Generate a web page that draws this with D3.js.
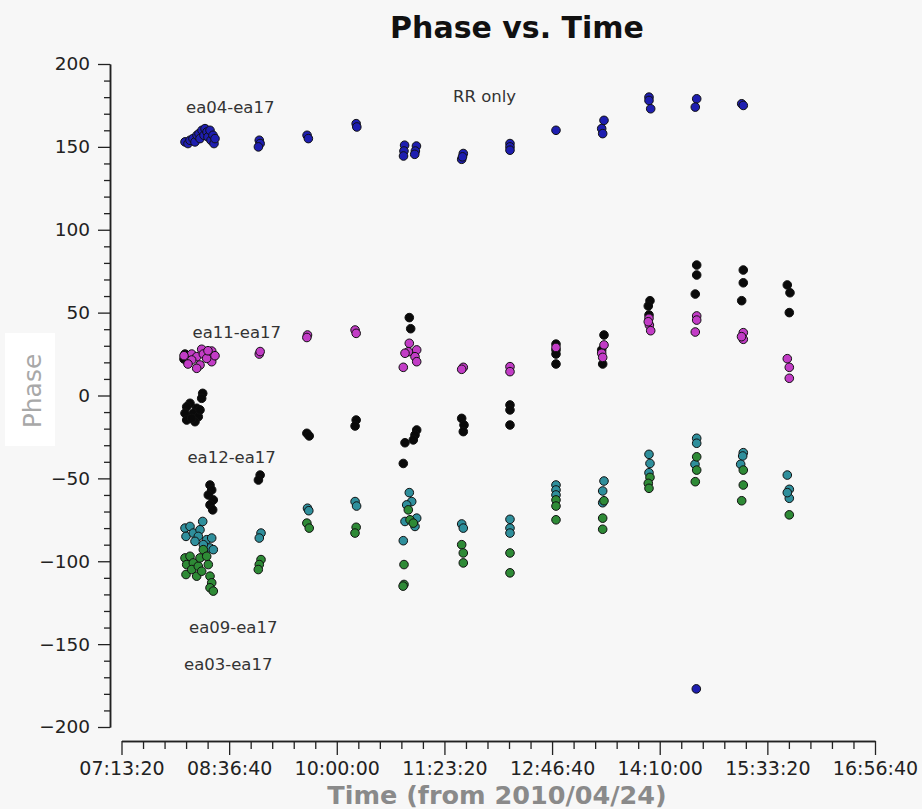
<!DOCTYPE html>
<html>
<head>
<meta charset="utf-8">
<script src="https://cdn.jsdelivr.net/npm/d3@7"></script>
<style>
  html, body { margin: 0; padding: 0; background: #f7f7f7; }
  svg { display: block; }
  text { font-family: "DejaVu Sans", sans-serif; }
</style>
</head>
<body>
<svg id="chart" width="922" height="809"></svg>
<script>
// ---------------- data (time in seconds since 2010/04/24 00:00, phase in degrees) ----------------
const xDomain = [26000, 61000];          // 07:13:20 .. 16:56:40
const yDomain = [-200, 200];
const xMajorTicks = [26000, 31000, 36000, 41000, 46000, 51000, 56000, 61000];
const yMajorTicks = [-200, -150, -100, -50, 0, 50, 100, 150, 200];

const seriesNames  = ["ea12-ea17", "ea09-ea17", "ea03-ea17", "ea11-ea17", "ea04-ea17"];
const seriesColors = ["#0a0a0a", "#2f8f9c", "#2e8a36", "#c23cc6", "#1e1eb0"];

const ea04 = [
  [28950,153],[29089,152],[29182,154],[29321,155],[29414,153],[29507,157],[29600,158],[29646,155],
  [29739,160],[29832,157],[29879,161],[29971,159],[30018,156],[30111,160],[30157,154],[30250,157],
  [30297,152],[30343,155],
  [32400,154],[32440,152],[32360,150],
  [34620,157],[34680,155],
  [36900,164],[36930,162],
  [39150,151],[39120,147.5],[39100,144.5],[39700,150.5],[39650,147.5],[39620,145.5],
  [41876,146],[41802,142.5],[41840,144],
  [44045,152],[44045,150],[44045,148],
  [46182,160],
  [48412,166],[48305,161],[48351,158],
  [50502,180],[50502,178],[50581,173],
  [52718,179],[52652,174],[52700,-177],
  [54808,176],[54882,175]
];

const ea11 = [
  [29028,23.4],[29261,25],[29493,23.4],[29725,27.9],[29800,25],[30190,26.8],[30264,23.4],[30190,20.4],
  [29646,18.4],[29493,16.4],[29261,21.4],[29957,22.4],[28903,24],[29089,19],[30018,27],[30343,24],
  [32400,25],[32440,26.5],
  [34640,36.5],[34610,35],
  [36850,39.5],[36900,37.5],
  [39368,31.5],[39712,27.5],[39322,26.4],[39633,23.4],[39168,25.5],[39712,20.4],[39089,17],
  [41876,17],[41802,15.8],
  [44045,17.4],[44045,14.4],
  [46182,29],
  [48412,30.5],[48305,25.5],[48351,23],
  [50502,46.6],[50520,42.5],[50581,39.1],[50469,44.5],
  [52718,48],[52718,45.5],[52652,38.3],
  [54882,37.9],[54882,33.9],[54800,35.5],
  [56926,22.2],[57019,17],[57019,10.4]
];

const ea12 = [
  [28903,22],[29089,20],[28950,25],
  [29772,1.3],[29725,-1.7],[29182,-4.7],[29028,-6.8],[29493,-7.7],[28950,-10.7],[29335,-10.7],
  [29567,-12.8],[29028,-14.8],[29414,-15.8],[29646,-8.7],[29261,-13.8],
  [30111,-54],[30190,-57],[30032,-60],[30264,-63],[30111,-66],[30236,-69],
  [32440,-48],[32360,-51],
  [34610,-22.8],[34720,-24.4],
  [36900,-14.8],[36850,-18.4],
  [39368,47],[39433,40.3],
  [39712,-20.8],[39633,-23.8],[39554,-26.8],[39168,-28.5],[39089,-41],
  [41802,-13.8],[41909,-17.8],[41876,-21.8],
  [44045,-5.7],[44045,-8.7],[44045,-17.8],
  [46182,31],[46182,27.5],[46182,25],[46182,19],
  [48412,36.5],[48305,27.5],[48351,19],
  [50548,57.2],[50469,54],[50502,48.6],
  [52718,78.7],[52718,72.7],[52652,61.2],
  [54882,75.7],[54882,68],[54808,57.2],
  [56926,66.7],[57051,62],[57019,50]
];

const ea09 = [
  [28950,-80],[29182,-79],[28996,-85],[29335,-83],[29646,-81],[29772,-76],[29567,-85],[29957,-87],
  [30190,-86],[30111,-92],[30264,-93],[29800,-90],[29414,-88],
  [32480,-83],[32400,-86],
  [34640,-68],[34700,-69.5],
  [36850,-64],[36920,-66.7],
  [39368,-58.6],[39480,-64],[39247,-66],[39712,-74],[39168,-76],[39633,-79],[39089,-87.6],
  [41802,-77.5],[41876,-80],
  [44045,-74.7],[44045,-80],[44045,-83],
  [46182,-54],[46182,-57],[46182,-60],
  [48412,-51.6],[48351,-57.6],[48351,-64.7],
  [50502,-35.5],[50548,-41],[50502,-46.6],
  [52718,-25.8],[52718,-28.8],[52638,-41.5],
  [54882,-34.5],[54854,-36.5],[54761,-41.5],
  [56926,-48],[57019,-56.6],[57019,-62],[56926,-58.6]
];

const ea03 = [
  [28950,-98],[29028,-102],[29182,-97],[29335,-101],[28996,-108],[29261,-105],[29567,-103],[29646,-98],
  [29800,-93],[29493,-109],[29725,-106],[30032,-102],[30111,-109],[30190,-113],[30111,-116],[30264,-118],
  [29957,-97],
  [32480,-99],[32400,-102],[32354,-105],
  [34610,-77],[34720,-80],
  [36900,-79.5],[36846,-83],
  [39322,-69],[39401,-75],[39554,-77],[39122,-102],[39122,-114],[39080,-115],
  [41802,-90],[41876,-95],[41876,-101],
  [44045,-95],[44045,-107],
  [46182,-63],[46182,-66.7],[46182,-75],
  [48412,-63.5],[48351,-74],[48351,-80.7],
  [50548,-49.4],[50469,-53],[50502,-56],
  [52718,-37],[52718,-45],[52652,-52],
  [54882,-45],[54882,-54],[54808,-63.5],
  [57019,-72]
];

const seriesData = [ea12, ea09, ea03, ea11, ea04];

// annotation labels: [text, time (left edge), phase (baseline)]
const labelTexts  = ["ea04-ea17", "RR only", "ea11-ea17", "ea12-ea17", "ea09-ea17", "ea03-ea17"];
const labelTimes  = [28996, 41397, 29300, 29060, 29135, 28903];
const labelPhases = [170.4, 177.1, 34.7, -40.5, -143.5, -165.6];

const titleText = "Phase vs. Time";
const xTitle = "Time (from 2010/04/24)";
const yTitle = "Phase";

// ---------------- drawing ----------------
const svg = d3.select("#chart");

const x = d3.scaleLinear().domain(xDomain).range([121.5, 875]);
const y = d3.scaleLinear().domain(yDomain).range([727, 64]);

const pad2 = n => String(n).padStart(2, "0");
const fmtTime = s => pad2(Math.floor(s / 3600)) + ":" + pad2(Math.floor((s % 3600) / 60)) + ":" + pad2(Math.round(s % 60));

svg.append("rect").attr("x", 0).attr("y", 0).attr("width", 922).attr("height", 809).attr("fill", "#f7f7f7");

// title
svg.append("text")
  .attr("x", 517).attr("y", 38)
  .attr("text-anchor", "middle")
  .attr("font-size", 30).attr("font-weight", "bold")
  .attr("fill", "#111")
  .text(titleText);

// y-axis title box + text
svg.append("rect").attr("x", 5).attr("y", 333).attr("width", 50).attr("height", 113).attr("fill", "#ffffff");
svg.append("text")
  .attr("transform", "translate(41,391) rotate(-90)")
  .attr("text-anchor", "middle")
  .attr("font-family", "'Open Sans', 'Noto Sans', sans-serif")
  .attr("font-size", 25)
  .attr("fill", "#a8a8a8")
  .text(yTitle);

// y axis minor
const yMinor = d3.range(-200, 201, 10).filter(v => v % 50 !== 0);
svg.append("g").attr("class", "ymin").attr("transform", "translate(110,0)")
  .call(d3.axisLeft(y).tickValues(yMinor).tickSize(6).tickSizeOuter(0).tickFormat(""));
// y axis major
svg.append("g").attr("class", "ymaj").attr("transform", "translate(110,0)")
  .call(d3.axisLeft(y).tickValues(yMajorTicks).tickSize(12).tickSizeOuter(0).tickPadding(8).tickFormat(d3.format("d")));

// x axis minor
const xMinor = d3.range(xDomain[0], xDomain[1] + 1, 1000).filter(v => (v - xDomain[0]) % 5000 !== 0);
svg.append("g").attr("class", "xmin").attr("transform", "translate(0,741)")
  .call(d3.axisBottom(x).tickValues(xMinor).tickSize(8).tickSizeOuter(0).tickFormat(""));
// x axis major
svg.append("g").attr("class", "xmaj").attr("transform", "translate(0,741)")
  .call(d3.axisBottom(x).tickValues(xMajorTicks).tickSize(14).tickSizeOuter(0).tickPadding(7).tickFormat(fmtTime));

svg.selectAll(".ymin path, .ymaj path, .xmin path, .xmaj path").attr("stroke", "#222").attr("stroke-width", 1.5);
svg.selectAll(".ymin line, .ymaj line, .xmin line, .xmaj line").attr("stroke", "#222").attr("stroke-width", 1.3);
svg.selectAll(".ymaj text").attr("font-size", 18.5).attr("fill", "#222").attr("font-family", "'DejaVu Sans', sans-serif");
svg.selectAll(".xmaj text").attr("font-size", 19).attr("fill", "#222").attr("font-family", "'DejaVu Sans', sans-serif");

// x-axis title
svg.append("text")
  .attr("x", 497).attr("y", 804)
  .attr("text-anchor", "middle")
  .attr("font-size", 25.5).attr("font-weight", "bold")
  .attr("fill", "#8a8a8a")
  .text(xTitle);

// points
seriesData.forEach((data, i) => {
  svg.append("g").attr("class", "series")
    .selectAll("circle").data(data).join("circle")
    .attr("cx", d => x(d[0]))
    .attr("cy", d => y(d[1]))
    .attr("r", 4.3)
    .attr("fill", seriesColors[i])
    .attr("stroke", "#111")
    .attr("stroke-width", 1);
});

// annotations
svg.append("g").selectAll("text").data(labelTexts).join("text")
  .attr("x", (d, i) => x(labelTimes[i]))
  .attr("y", (d, i) => y(labelPhases[i]))
  .attr("font-size", 16.5)
  .attr("fill", "#333")
  .text(d => d);
</script>
</body>
</html>
